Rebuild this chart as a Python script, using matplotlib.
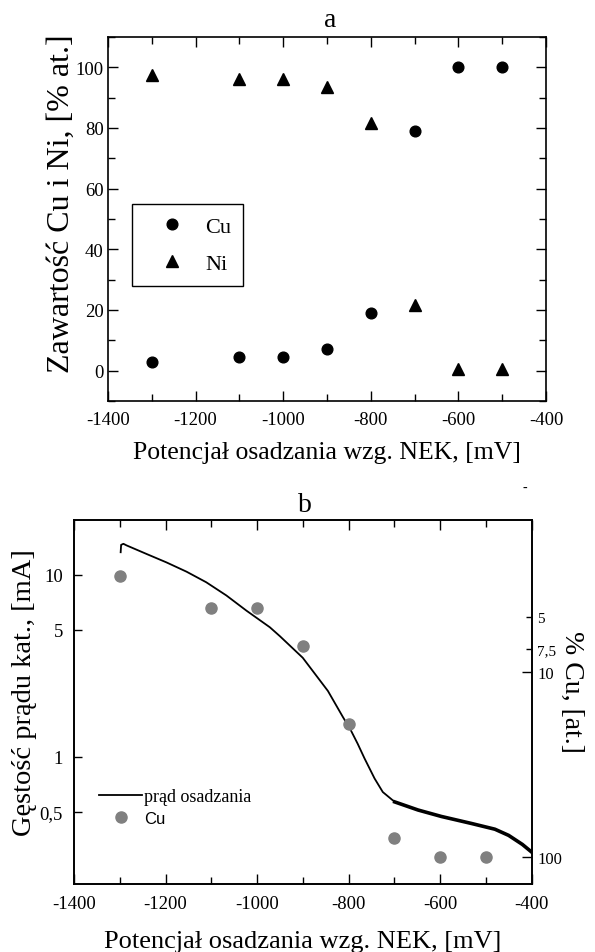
import matplotlib
matplotlib.use('Agg')
import matplotlib.pyplot as plt
from matplotlib.ticker import NullLocator

plt.rcParams['font.family'] = ['Liberation Serif', 'DejaVu Serif']
plt.rcParams['axes.unicode_minus'] = False

# composition vs deposition potential
potential = [-1300, -1100, -1000, -900, -800, -700, -600, -500]
cu_pct = [3.0, 4.5, 4.5, 7.2, 19, 79, 100, 100]
ni_pct = [97.5, 96, 96, 93.5, 81.5, 21.5, 0.7, 0.7]

# deposition current
curr_x = [-1298, -1297, -1292, -1285, -1241, -1198, -1154, -1111, -1067, -1023,
          -972, -950, -900, -845, -812, -795, -780, -765, -743, -725,
          -699, -648, -597, -531, -480, -450, -420, -400]
curr_y = [13.3, 14.6, 14.8, 14.5, 13.0, 11.7, 10.4, 9.1, 7.7, 6.35,
          5.15, 4.6, 3.5, 2.3, 1.65, 1.40, 1.18, 0.98, 0.76, 0.64,
          0.565, 0.51, 0.47, 0.43, 0.40, 0.37, 0.33, 0.30]

x_ticks = [-1400, -1200, -1000, -800, -600, -400]
x_labels = ['-1400', '-1200', '-1000', '-800', '-600', '-400']
x_minor = [-1300, -1100, -900, -700, -500]
a_yticks = [0, 20, 40, 60, 80, 100]
a_yminor = [-10, 10, 30, 50, 70, 90, 110]
b_left_ticks = [0.5, 1, 5, 10]
b_left_labels = ['0,5', '1', '5', '10']
b_right_major = [10, 100]
b_right_major_labels = ['10', '100']
b_right_minor = [5, 7.5]
b_right_minor_labels = ['5', '7,5']

W, H = 595, 953
fig = plt.figure(figsize=(W / 100, H / 100), dpi=100)

def fx(px):
    return px / W

def fy(py):
    return 1 - py / H

# ---- panel a ----
ax1 = fig.add_axes([fx(108), fy(402), 438 / W, 364 / H])
ax1.plot(potential, cu_pct, 'o', color='black', ms=7.7, label='Cu')
ax1.plot(potential, ni_pct, '^', color='black', ms=8.5, label='Ni')
ax1.set_xlim(-1400, -400)
ax1.set_ylim(-10, 110)
ax1.set_xticks(x_ticks, x_labels)
ax1.set_xticks(x_minor, minor=True)
ax1.set_yticks(a_yticks)
ax1.set_yticks(a_yminor, minor=True)
ax1.tick_params(which='both', direction='in', top=True, right=True, width=1)
ax1.tick_params(which='major', length=7, labelsize=13.5)
ax1.tick_params(which='minor', length=5)
ax1.tick_params(axis='x', pad=7)
ax1.tick_params(axis='y', pad=3)
for s in ax1.spines.values():
    s.set_linewidth(1.2)
leg1 = ax1.legend(loc='upper left', bbox_to_anchor=(fx(131.6), fy(205)),
                  bbox_transform=fig.transFigure, fancybox=False,
                  edgecolor='black', framealpha=1, fontsize=16, numpoints=1,
                  borderaxespad=0, borderpad=0.55, handletextpad=0.25,
                  labelspacing=0.75, handlelength=2.5)
leg1.get_frame().set_linewidth(1.0)

fig.text(fx(330), fy(27), 'a', fontsize=20, ha='center', va='baseline')
fig.text(fx(327), fy(459), 'Potencjał osadzania wzg. NEK, [mV]', fontsize=18.5,
         ha='center', va='baseline')
fig.text(fx(61), fy(204), 'Zawartość Cu i Ni, [% at.]', fontsize=23,
         rotation=90, ha='center', va='center')

# ---- panel b ----
ax2 = fig.add_axes([fx(74), fy(885), 457.5 / W, 364 / H])
ax2.set_yscale('log')
ax2.set_xlim(-1400, -400)
ax2.set_ylim(0.2, 20)
line, = ax2.plot(curr_x, curr_y, color='black', lw=1.3, label='prąd osadzania')
ax2.plot(curr_x[20:], curr_y[20:], color='black', lw=2.6)
ax2.set_xticks(x_ticks, x_labels)
ax2.set_xticks(x_minor, minor=True)
ax2.set_yticks(b_left_ticks, b_left_labels)
ax2.yaxis.set_minor_locator(NullLocator())
ax2.tick_params(which='both', direction='in', top=True, right=False, width=1)
ax2.tick_params(which='major', length=7, labelsize=13.5, pad=8)
ax2.tick_params(which='minor', length=5)
ax2.tick_params(axis='y', length=6)

ax3 = ax2.twinx()
ax3.set_yscale('log')
ax3.set_ylim(140, 1.5)
pts, = ax3.plot(potential, cu_pct, 'o', color='#808080', ms=8, label='Cu')
ax3.set_yticks(b_right_major, b_right_major_labels)
ax3.set_yticks(b_right_minor, b_right_minor_labels, minor=True)
ax3.tick_params(which='major', direction='in', length=7, width=1, labelsize=12, pad=4)
ax3.tick_params(which='minor', direction='in', length=4, width=1, labelsize=11, pad=4)
for a in (ax2, ax3):
    for s in a.spines.values():
        s.set_linewidth(1.2)

leg2 = ax3.legend([line, pts], ['prąd osadzania', 'Cu'], loc='upper left',
                  bbox_to_anchor=(fx(99), fy(789)), bbox_transform=fig.transFigure,
                  frameon=False, fontsize=13, handlelength=2.4, handletextpad=0.1,
                  borderaxespad=0, borderpad=0, labelspacing=0.3)
leg2.get_texts()[1].set_fontfamily('Liberation Sans')
leg2.get_texts()[1].set_fontsize(12)

fig.text(fx(305), fy(512), 'b', fontsize=20, ha='center', va='baseline')
fig.text(fx(525), fy(488), '-', fontsize=10, ha='center', va='center')
fig.text(fx(303), fy(948), 'Potencjał osadzania wzg. NEK, [mV]', fontsize=19,
         ha='center', va='baseline')
fig.text(fx(25), fy(693), 'Gęstość prądu kat., [mA]', fontsize=20.5,
         rotation=90, ha='center', va='center')
fig.text(fx(572), fy(692), '% Cu, [at.]', fontsize=20,
         rotation=270, ha='center', va='center')

fig.savefig('out.png', dpi=100)
